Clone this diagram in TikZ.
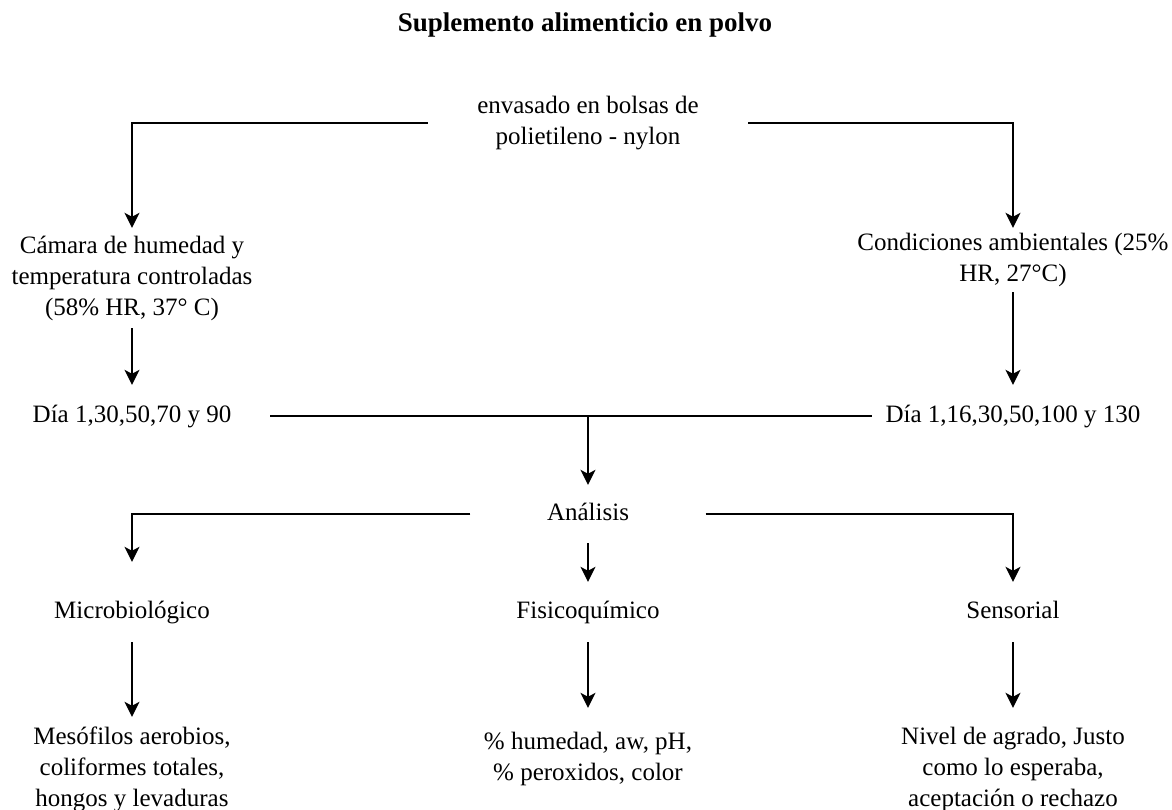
\documentclass[tikz,border=0pt]{standalone}
\usepackage{fontspec}
\setmainfont{Liberation Serif}
\usetikzlibrary{arrows.meta}
\tikzset{
  box/.style={align=center, inner sep=0pt, font=\fontsize{25}{31}\selectfont},
  oneline/.style={text height=18pt, text depth=6pt},
  flow/.style={-{Stealth[length=15pt,width=15pt,inset=4pt]}, line width=1.4pt},
  link/.style={line width=1.4pt},
}

\begin{document}
\begin{tikzpicture}[x=1pt,y=-1pt]
\fill[white] (0,0) rectangle (1172,810);
\useasboundingbox (0,0) rectangle (1172,810);

% Title
\node[font=\fontsize{27}{32}\selectfont\bfseries] (title) at (585,25) {Suplemento alimenticio en polvo};

% Packaging and storage conditions
\node[box, minimum width=320pt, minimum height=60pt] (env) at (588,123) {envasado en bolsas de\\polietileno - nylon};
\node[box, minimum height=100pt] (cam) at (132,278) {Cámara de humedad y\\temperatura controladas\\(58\% HR, 37° C)};
\node[box, minimum height=64pt] (cond) at (1013,260) {Condiciones ambientales (25\%\\HR, 27°C)};
\draw[flow] (env.west) -| (cam.north);
\draw[flow] (env.east) -| (cond.north);

% Sampling days
\node[box, oneline, minimum width=276pt, minimum height=62pt] (dia1) at (132,416) {Día 1,30,50,70 y 90};
\node[box, oneline, minimum width=282pt, minimum height=62pt] (dia2) at (1013,416) {Día 1,16,30,50,100 y 130};
\draw[flow] (cam.south) -- (dia1.north);
\draw[flow] (cond.south) -- (dia2.north);
\draw[link] (dia1.east) -- (dia2.west);

% Analysis
\node[box, oneline, minimum width=235pt, minimum height=58pt] (ana) at (588,514) {Análisis};
\coordinate (join) at (ana.north |- dia1.east);
\draw[flow] (join) -- (ana.north);

\node[box, oneline, minimum height=60pt] (mic) at (132,612) {Microbiológico};
\node[box, oneline, minimum height=60pt] (fis) at (588,612) {Fisicoquímico};
\node[box, oneline, minimum height=60pt] (sen) at (1013,612) {Sensorial};
\draw[flow] (ana.west) -| ([yshift=20pt]mic.north);
\draw[flow] (ana.south) -- (fis.north);
\draw[flow] (ana.east) -| (sen.north);

% Parameters
\node[box, minimum height=104pt] (mes) at (132,769) {Mesófilos aerobios,\\coliformes totales,\\hongos y levaduras};
\node[box, minimum height=102pt] (hum) at (588,759) {\% humedad, aw, pH,\\\% peroxidos, color};
\node[box, minimum height=122pt] (niv) at (1013,769) {Nivel de agrado, Justo\\como lo esperaba,\\aceptación o rechazo};
\draw[flow] (mic.south) -- (mes.north);
\draw[flow] (fis.south) -- (hum.north);
\draw[flow] (sen.south) -- (niv.north);
\end{tikzpicture}
\end{document}
